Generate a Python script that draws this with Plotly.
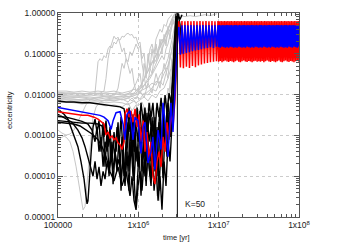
import plotly.graph_objects as go

# ---------------- data ----------------
x_tickvals = [1e5, 1e6, 1e7, 1e8]
x_ticktext = ["100000", "1x10<sup>6</sup>", "1x10<sup>7</sup>", "1x10<sup>8</sup>"]
y_tickvals = [1e-5, 1e-4, 1e-3, 1e-2, 1e-1, 1.0]
y_ticktext = ["0.00001", "0.00010", "0.00100", "0.01000", "0.10000", "1.00000"]
marker_time = 3.06e6
label_text = "K=50"

# late-time sampling of the two surviving planets (3 Myr - 100 Myr)
late_t_a = [3.20e6,3.34e6,3.49e6,3.64e6,3.80e6,3.97e6,4.14e6,4.33e6,4.52e6,4.72e6,
            4.92e6,5.14e6,5.37e6,5.60e6,5.85e6,6.10e6,6.37e6,6.65e6,6.95e6,7.25e6,
            7.57e6,7.90e6,8.25e6,8.62e6,8.99e6,9.39e6,9.80e6]
late_t_b = [1.000e7,1.024e7,1.049e7,1.075e7,1.101e7,1.128e7,1.155e7,1.183e7,1.212e7,1.241e7,
            1.271e7,1.302e7,1.334e7,1.366e7,1.399e7,1.433e7,1.468e7,1.504e7,1.540e7,1.578e7,
            1.616e7,1.655e7,1.695e7,1.736e7,1.778e7,1.821e7,1.866e7,1.911e7,1.957e7,2.005e7,
            2.054e7,2.103e7,2.154e7,2.207e7,2.260e7,2.315e7,2.371e7,2.429e7,2.488e7,2.548e7,
            2.610e7,2.673e7,2.738e7,2.805e7,2.873e7,2.943e7,3.014e7,3.087e7,3.162e7,3.239e7,
            3.318e7,3.398e7,3.481e7,3.565e7,3.652e7,3.740e7,3.831e7,3.924e7,4.019e7,4.117e7,
            4.217e7,4.319e7,4.424e7,4.532e7,4.642e7,4.754e7,4.870e7,4.988e7,5.109e7,5.233e7,
            5.360e7,5.490e7,5.623e7,5.760e7,5.900e7,6.043e7,6.190e7,6.340e7,6.494e7,6.652e7,
            6.813e7,6.979e7,7.149e7,7.322e7,7.500e7,7.682e7,7.869e7,8.060e7,8.256e7,8.456e7,
            8.661e7,8.872e7,9.087e7,9.308e7,9.534e7,9.766e7,1.000e8]

red_early_t = [1.00e5,1.19e5,1.41e5,1.68e5,1.99e5,2.36e5,2.81e5,3.15e5,3.53e5,3.74e5,3.96e5,4.20e5,4.44e5,4.71e5,4.98e5,5.28e5,5.59e5,5.92e5,6.27e5,6.64e5,6.83e5,7.23e5,7.66e5,8.11e5,8.59e5,9.10e5,9.64e5,1.02e6,1.08e6,1.15e6,1.21e6,1.28e6,1.36e6,1.44e6,1.52e6,1.61e6,1.71e6,1.81e6,1.92e6,2.03e6,2.15e6,2.28e6,2.41e6,2.55e6,2.70e6,2.87e6,2.95e6,3.03e6,3.12e6]
red_early_e = [0.0038,0.0036,0.0034,0.0033,0.0031,0.0031,0.0028,0.0025,0.0021,0.0019,0.00102,0.00121,0.00087,0.00097,0.00078,0.00087,0.00066,0.00059,0.00045,0.00070,0.0033,0.0045,0.0028,0.0040,0.0021,0.0045,0.0016,0.0033,0.00070,0.0023,0.00040,0.00121,0.00026,0.00070,0.00010,0.000064,0.00023,0.00040,0.00017,0.00092,0.00040,0.0021,0.00078,0.0036,0.0016,0.0083,0.033,0.174,0.525]
red_late_a = [0.63,0.046,0.64,0.044,0.63,0.048,0.64,0.045,0.63,0.050,
              0.64,0.047,0.63,0.052,0.64,0.055,0.63,0.058,0.64,0.060,
              0.63,0.062,0.64,0.064,0.63,0.066,0.64]
red_late_b = [0.064,0.63,0.067,0.64,0.062,0.63,0.066,0.64,0.069,0.63,
              0.065,0.64,0.063,0.63,0.067,0.64,0.065,0.63,0.062,0.64,
              0.066,0.63,0.069,0.64,0.064,0.63,0.062,0.64,0.066,0.63,
              0.069,0.64,0.065,0.63,0.063,0.64,0.067,0.63,0.065,0.64,
              0.062,0.63,0.066,0.64,0.068,0.63,0.064,0.64,0.066,0.63,
              0.064,0.64,0.067,0.63,0.062,0.64,0.066,0.63,0.069,0.64,
              0.065,0.63,0.063,0.64,0.067,0.63,0.065,0.64,0.062,0.63,
              0.066,0.64,0.069,0.63,0.064,0.64,0.062,0.63,0.066,0.64,
              0.069,0.63,0.065,0.64,0.063,0.63,0.067,0.64,0.065,0.63,
              0.062,0.64,0.066,0.63,0.068,0.64,0.064]

blue_early_t = [1.00e5,1.19e5,1.41e5,1.68e5,1.99e5,2.36e5,2.81e5,3.34e5,3.74e5,4.20e5,4.44e5,4.58e5,4.85e5,5.28e5,5.92e5,6.45e5,6.83e5,7.23e5,7.88e5,8.59e5,9.10e5,9.92e5,1.08e6,1.15e6,1.21e6,1.32e6,1.44e6,1.52e6,1.61e6,1.76e6,1.92e6,2.03e6,2.15e6,2.34e6,2.55e6,2.70e6,2.87e6,2.95e6,3.03e6,3.12e6]
blue_early_e = [0.0048,0.0045,0.0043,0.0040,0.0038,0.0036,0.0034,0.0031,0.0028,0.0023,0.0017,0.0014,0.0023,0.0036,0.0038,0.0019,0.00078,0.0033,0.0040,0.00078,0.0028,0.0023,0.00036,0.0016,0.0021,0.00021,0.00040,0.00092,0.000147,0.00135,0.00045,0.0063,0.0021,0.00030,0.0063,0.00121,0.0144,0.058,0.229,0.40]
blue_late_a = [0.45,0.095,0.50,0.10,0.51,0.105,0.50,0.11,0.51,0.115,
               0.50,0.12,0.51,0.125,0.50,0.13,0.51,0.135,0.50,0.14,
               0.51,0.145,0.50,0.14,0.51,0.15,0.50]
blue_late_b = [0.145,0.51,0.14,0.50,0.15,0.51,0.145,0.50,0.14,0.51,
               0.145,0.51,0.14,0.50,0.15,0.51,0.145,0.50,0.14,0.51,
               0.145,0.51,0.14,0.50,0.15,0.51,0.145,0.50,0.14,0.51,
               0.145,0.51,0.14,0.50,0.15,0.51,0.145,0.50,0.14,0.51,
               0.145,0.51,0.14,0.50,0.15,0.51,0.145,0.50,0.14,0.51,
               0.145,0.51,0.14,0.50,0.15,0.51,0.145,0.50,0.14,0.51,
               0.145,0.51,0.14,0.50,0.15,0.51,0.145,0.50,0.14,0.51,
               0.145,0.51,0.14,0.50,0.15,0.51,0.145,0.50,0.14,0.51,
               0.145,0.51,0.14,0.50,0.15,0.51,0.145,0.50,0.14,0.51,
               0.15,0.50,0.145,0.51,0.14,0.50,0.15]

# black planets
b1_t = [1.00e5,1.26e5,1.58e5,1.99e5,2.50e5,3.15e5,3.96e5,4.98e5,5.92e5,6.64e5,7.03e5,7.45e5,7.88e5,8.35e5,8.84e5,9.37e5,9.92e5,1.05e6,1.11e6,1.18e6,1.25e6,1.32e6,1.40e6,1.48e6,1.57e6,1.66e6,1.76e6,1.86e6,1.97e6,2.09e6,2.21e6,2.34e6,2.48e6,2.63e6,2.78e6,2.87e6,2.95e6,3.12e6,3.30e6,3.50e6]
b1_e = [0.0070,0.0066,0.0066,0.0063,0.0063,0.0059,0.0056,0.0053,0.0050,0.0045,0.0023,0.0036,0.00121,0.0028,0.00040,0.0021,0.00070,0.0040,0.00087,0.0033,0.00023,0.0016,0.0036,0.00053,0.0023,0.000131,0.00121,0.0048,0.00040,0.0028,0.00092,0.0063,0.0021,0.0144,0.058,0.30,0.815,0.96,0.69,0.91]

b2_t = [1.00e5,1.19e5,1.33e5,1.45e5,1.58e5,1.77e5,1.93e5,2.11e5,2.23e5,2.30e5,2.36e5,2.43e5,2.50e5,2.58e5,2.65e5,2.73e5,2.89e5,3.06e5,3.24e5,3.43e5,3.64e5,3.85e5,4.08e5,4.32e5,4.58e5,4.85e5,5.13e5,5.43e5,5.75e5,6.09e5,6.45e5,6.83e5,7.23e5,7.66e5,8.11e5,8.59e5,9.10e5,9.37e5,9.64e5,1.02e6,1.08e6,1.15e6,1.21e6,1.28e6,1.36e6,1.44e6,1.52e6,1.61e6,1.71e6,1.81e6,1.92e6,2.03e6,2.15e6,2.28e6,2.41e6,2.55e6,2.70e6,2.87e6,2.95e6,3.03e6,3.21e6]
b2_e = [0.0043,0.0033,0.0025,0.0016,0.00102,0.00053,0.00023,0.000085,0.000033,0.000021,0.000025,0.000049,0.000131,0.00036,0.00078,0.0016,0.0025,0.00121,0.0023,0.00040,0.0021,0.00017,0.00135,0.000100,0.00070,0.000064,0.00040,0.000131,0.00092,0.000044,0.00053,0.000085,0.00121,0.000131,0.0021,0.00023,0.000033,0.000019,0.000058,0.00040,0.000033,0.00070,0.000100,0.0021,0.00017,0.000058,0.00092,0.000131,0.0016,0.000044,0.00070,0.000089,0.00121,0.00030,0.0036,0.00092,0.0063,0.058,0.30,0.815,0.96]

b3_t = [1.00e5,1.26e5,1.49e5,1.77e5,1.99e5,2.17e5,2.36e5,2.58e5,2.73e5,2.89e5,3.06e5,3.24e5,3.43e5,3.64e5,3.85e5,4.08e5,4.32e5,4.58e5,4.85e5,5.13e5,5.43e5,5.75e5,6.09e5,6.45e5,6.83e5,7.23e5,7.66e5,8.11e5,8.59e5,9.10e5,9.64e5,1.02e6,1.08e6,1.15e6,1.21e6,1.28e6,1.36e6,1.44e6,1.52e6,1.61e6,1.71e6,1.81e6,1.92e6,2.03e6,2.15e6,2.28e6,2.41e6,2.55e6,2.70e6,2.87e6,2.95e6,3.03e6,3.12e6,3.30e6,3.50e6]
b3_e = [0.0033,0.0026,0.0021,0.00135,0.00087,0.00053,0.00029,0.000147,0.00010,0.00023,0.000085,0.00017,0.000058,0.000131,0.000085,0.00023,0.000118,0.00030,0.000147,0.00040,0.00017,0.00026,0.00010,0.00023,0.000058,0.00040,0.000044,0.00070,0.00010,0.00121,0.00023,0.0023,0.00053,0.0016,0.00030,0.0036,0.00070,0.0016,0.00017,0.0028,0.00053,0.0021,0.00023,0.0033,0.00070,0.0048,0.0016,0.0083,0.0036,0.033,0.174,0.69,0.91,0.525,0.10]

b4_t = [1.00e5,1.26e5,1.58e5,1.99e5,2.50e5,3.15e5,3.53e5,3.74e5,3.96e5,4.20e5,4.44e5,4.71e5,4.98e5,5.28e5,5.59e5,5.92e5,6.27e5,6.64e5,7.03e5,7.45e5,7.88e5,8.35e5,8.84e5,9.37e5,9.92e5,1.05e6,1.11e6,1.18e6,1.25e6,1.32e6,1.40e6,1.48e6,1.57e6,1.66e6,1.76e6,1.86e6,1.97e6,2.09e6,2.21e6,2.34e6,2.48e6,2.63e6,2.78e6,2.87e6,2.95e6,3.03e6]
b4_e = [0.0023,0.0022,0.0021,0.0020,0.0020,0.0019,0.0017,0.00092,0.0023,0.00053,0.0016,0.00023,0.00121,0.00040,0.0021,0.00017,0.00092,0.00010,0.00070,0.0021,0.00030,0.00092,0.000076,0.00053,0.00017,0.0016,0.000131,0.00092,0.000058,0.00070,0.00023,0.0028,0.00040,0.00135,0.00010,0.0021,0.00023,0.0016,0.00053,0.0028,0.00092,0.0048,0.019,0.10,0.40,0.91]

b5_t = [1.00e5,1.26e5,1.58e5,1.99e5,2.36e5,2.65e5,2.89e5,3.06e5,3.24e5,3.43e5,3.64e5,3.85e5,4.08e5,4.32e5,4.58e5,4.85e5,5.13e5,5.43e5,5.75e5,6.09e5,6.45e5,6.83e5,7.23e5,7.66e5,8.11e5,8.59e5,9.10e5,9.64e5,1.02e6,1.08e6,1.15e6,1.21e6,1.28e6,1.36e6,1.44e6,1.52e6,1.61e6,1.71e6,1.81e6,1.92e6,2.03e6,2.15e6,2.28e6,2.41e6,2.55e6,2.70e6,2.78e6,2.87e6,2.95e6,3.12e6]
b5_e = [0.0029,0.0028,0.0025,0.0022,0.0019,0.00135,0.00070,0.0016,0.00040,0.00092,0.00017,0.00070,0.00040,0.00121,0.00023,0.00070,0.00030,0.0016,0.00053,0.0028,0.00040,0.0036,0.00070,0.0048,0.00092,0.0033,0.00040,0.0048,0.00121,0.0063,0.0021,0.0048,0.00070,0.0063,0.0028,0.0063,0.00121,0.0063,0.0028,0.0083,0.0021,0.0098,0.0036,0.0109,0.0063,0.025,0.132,0.525,0.96,0.86]

b6_t = [1.00e5,1.26e5,1.58e5,1.88e5,2.23e5,2.65e5,3.15e5,3.53e5,3.96e5,4.44e5,4.98e5,5.59e5,6.27e5,7.03e5,7.88e5,8.35e5,8.84e5,9.37e5,9.92e5,1.05e6,1.11e6,1.18e6,1.25e6,1.32e6,1.40e6,1.48e6,1.57e6,1.66e6,1.76e6,1.86e6,1.97e6,2.09e6,2.21e6,2.34e6,2.48e6,2.63e6,2.78e6,2.87e6,2.95e6,3.03e6]
b6_e = [0.0021,0.0020,0.0019,0.0017,0.00135,0.00108,0.00078,0.00053,0.00030,0.000131,0.000076,0.00017,0.000058,0.000131,0.000033,0.00010,0.000025,0.000015,0.000058,0.000131,0.000044,0.00023,0.000076,0.00040,0.00010,0.00053,0.000044,0.00017,0.000025,0.00010,0.000015,0.00023,0.000058,0.00070,0.00023,0.0021,0.0083,0.058,0.30,0.73]

# gray planets
g1_t = [1.00e5,1.41e5,1.88e5,2.50e5,2.89e5,3.06e5,3.15e5,3.34e5,3.53e5,3.74e5,3.96e5,4.20e5,4.44e5,4.71e5,4.98e5,5.28e5,5.59e5,5.92e5,6.27e5,6.64e5,7.03e5,7.45e5,7.88e5,8.35e5,8.84e5,9.37e5,9.92e5,1.05e6,1.11e6,1.18e6,1.25e6,1.32e6,1.40e6,1.48e6,1.57e6,1.66e6,1.76e6,1.86e6,1.97e6,2.09e6,2.21e6,2.34e6,2.48e6,2.63e6]
g1_e = [0.0098,0.0092,0.0092,0.0098,0.0109,0.033,0.064,0.076,0.068,0.090,0.080,0.132,0.156,0.139,0.194,0.174,0.229,0.217,0.27,0.256,0.30,0.319,0.286,0.30,0.242,0.256,0.174,0.194,0.076,0.10,0.033,0.058,0.132,0.174,0.10,0.229,0.30,0.40,0.337,0.525,0.47,0.69,0.815,0.91]

g2_t = [1.00e5,1.41e5,1.88e5,2.50e5,3.34e5,3.74e5,3.96e5,4.20e5,4.44e5,4.71e5,4.98e5,5.28e5,5.59e5,5.92e5,6.27e5,6.64e5,7.03e5,7.45e5,7.88e5,8.35e5,8.84e5,9.37e5,9.92e5,1.05e6,1.18e6,1.32e6,1.48e6,1.66e6,1.86e6,2.09e6,2.34e6,2.63e6,2.78e6]
g2_e = [0.0109,0.0103,0.0109,0.0103,0.0109,0.0122,0.025,0.076,0.132,0.194,0.27,0.229,0.256,0.174,0.112,0.139,0.076,0.052,0.033,0.044,0.019,0.0122,0.0144,0.0109,0.017,0.025,0.033,0.058,0.10,0.174,0.30,0.525,0.69]

g3_t = [1.00e5,1.41e5,1.88e5,2.50e5,3.34e5,4.44e5,5.13e5,5.59e5,5.92e5,6.27e5,6.64e5,7.03e5,7.45e5,7.88e5,8.35e5,8.84e5,9.37e5,9.92e5,1.05e6,1.11e6,1.18e6,1.25e6,1.32e6,1.40e6,1.48e6,1.57e6,1.66e6,1.76e6,1.86e6,1.97e6,2.09e6,2.21e6,2.34e6,2.48e6,2.63e6,2.78e6]
g3_e = [0.0088,0.0083,0.0088,0.0083,0.0088,0.0092,0.0098,0.0144,0.033,0.058,0.044,0.076,0.064,0.112,0.090,0.132,0.174,0.132,0.156,0.058,0.025,0.0144,0.019,0.044,0.033,0.076,0.064,0.132,0.174,0.229,0.194,0.337,0.42,0.585,0.73,0.91]

g4_t = [1.00e5,1.26e5,1.58e5,1.99e5,2.50e5,3.15e5,3.96e5,4.98e5,6.27e5,7.88e5,8.84e5,9.92e5,1.11e6,1.25e6,1.40e6,1.57e6,1.76e6,1.97e6,2.09e6,2.21e6,2.34e6,2.48e6,2.63e6,2.78e6,2.95e6,3.30e6,3.82e6,4.41e6,5.09e6,5.86e6,6.78e6,7.82e6,9.02e6,9.55e6]
g4_e = [0.0122,0.0122,0.0115,0.0122,0.0115,0.0122,0.0115,0.0122,0.0109,0.0122,0.0136,0.0122,0.0152,0.019,0.025,0.037,0.058,0.090,0.072,0.132,0.174,0.30,0.47,0.73,0.96,0.86,0.815,0.86,0.815,0.86,0.91,0.86,0.91,0.96]

g5_t = [1.00e5,1.26e5,1.58e5,1.99e5,2.50e5,3.15e5,3.96e5,4.98e5,6.27e5,7.88e5,9.37e5,1.05e6,1.18e6,1.32e6,1.48e6,1.66e6,1.86e6,2.09e6,2.34e6,2.48e6,2.63e6,2.78e6,2.95e6]
g5_e = [0.0115,0.0109,0.0109,0.0103,0.0109,0.0103,0.0109,0.0103,0.0098,0.0109,0.0103,0.0122,0.0136,0.0152,0.019,0.017,0.030,0.0415,0.076,0.132,0.229,0.40,0.69]

g6_t = [1.00e5,1.26e5,1.58e5,1.99e5,2.50e5,3.15e5,3.96e5,4.98e5,6.27e5,7.88e5,9.37e5,1.05e6,1.18e6,1.32e6,1.48e6,1.66e6,1.86e6,2.09e6,2.34e6,2.55e6,2.70e6,2.87e6,3.03e6]
g6_e = [0.0103,0.0098,0.0098,0.0092,0.0092,0.0098,0.0092,0.0088,0.0092,0.0088,0.0098,0.0109,0.0098,0.0122,0.0144,0.0212,0.019,0.033,0.052,0.10,0.194,0.337,0.585]

g7_t = [1.00e5,1.26e5,1.58e5,1.99e5,2.50e5,3.15e5,3.96e5,4.98e5,6.27e5,7.45e5,8.35e5,9.37e5,1.05e6,1.18e6,1.32e6,1.48e6,1.66e6,1.86e6,2.03e6,2.21e6,2.41e6,2.63e6,2.78e6,2.95e6,3.12e6]
g7_e = [0.0092,0.0088,0.0088,0.0083,0.0078,0.0083,0.0078,0.0083,0.0074,0.0083,0.0070,0.0088,0.0078,0.0109,0.0098,0.0136,0.0122,0.0212,0.017,0.033,0.058,0.132,0.30,0.525,0.815]

g8_t = [1.00e5,1.26e5,1.58e5,1.99e5,2.50e5,3.15e5,3.96e5,4.98e5,6.27e5,7.45e5,8.35e5,9.37e5,1.05e6,1.18e6,1.32e6,1.48e6,1.66e6,1.86e6,2.09e6,2.34e6,2.55e6,2.78e6,2.95e6,3.12e6]
g8_e = [0.0083,0.0078,0.0078,0.0074,0.0074,0.0070,0.0074,0.0070,0.0078,0.0066,0.0083,0.0063,0.0074,0.0088,0.0070,0.0098,0.0083,0.0122,0.0144,0.025,0.044,0.132,0.40,0.91]

g9_t = [1.00e5,1.26e5,1.58e5,1.99e5,2.50e5,3.15e5,3.96e5,4.98e5,6.27e5,7.45e5,8.84e5,9.92e5,1.11e6,1.25e6,1.40e6,1.57e6,1.66e6,1.76e6,1.81e6,1.86e6,1.97e6,2.09e6,2.21e6,2.34e6,2.48e6,2.63e6,2.78e6,2.95e6,3.03e6]
g9_e = [0.0074,0.0074,0.0070,0.0070,0.0066,0.0066,0.0063,0.0066,0.0063,0.0056,0.0070,0.0053,0.0066,0.0036,0.0063,0.0021,0.0048,0.00040,0.000025,0.00023,0.0036,0.0083,0.0048,0.0144,0.0109,0.033,0.10,0.30,0.69]

g10_t = [1.00e5,1.26e5,1.58e5,1.99e5,2.50e5,3.15e5,3.96e5,4.98e5,6.27e5,7.45e5,8.35e5,9.37e5,1.05e6,1.18e6,1.32e6,1.48e6,1.61e6,1.71e6,1.76e6,1.86e6,1.97e6,2.09e6,2.21e6,2.34e6,2.48e6,2.63e6,2.78e6,2.95e6]
g10_e = [0.0063,0.0066,0.0063,0.0059,0.0063,0.0059,0.0053,0.0056,0.0050,0.0063,0.0040,0.0056,0.0028,0.0048,0.0016,0.0036,0.00070,0.000033,0.00040,0.0021,0.0048,0.0028,0.0083,0.0063,0.019,0.058,0.174,0.525]

g11_t = [1.00e5,1.09e5,1.19e5,1.29e5,1.41e5,1.54e5,1.68e5,1.83e5,1.93e5,2.05e5,2.17e5,2.30e5,2.43e5,2.58e5,2.73e5,2.98e5,3.34e5,3.96e5,4.98e5,6.27e5,7.88e5,9.37e5,1.05e6,1.18e6,1.32e6,1.48e6,1.66e6,1.86e6,2.09e6,2.34e6,2.63e6,2.87e6]
g11_e = [0.00070,0.00087,0.00097,0.00087,0.00070,0.00040,0.00017,0.000058,0.000025,0.000015,0.000018,0.000058,0.00023,0.00092,0.0028,0.0050,0.0066,0.0074,0.0078,0.0083,0.0092,0.0109,0.0144,0.025,0.037,0.058,0.10,0.156,0.229,0.40,0.69,0.96]

g12_t = [1.00e5,1.12e5,1.26e5,1.41e5,1.58e5,1.77e5,1.99e5,2.23e5,2.50e5,2.98e5,3.74e5,4.71e5,5.92e5,7.45e5,8.84e5,9.92e5,1.11e6,1.25e6,1.40e6,1.57e6,1.76e6,1.97e6,2.21e6,2.48e6,2.70e6,2.87e6]
g12_e = [0.00135,0.00114,0.00102,0.00108,0.00135,0.0021,0.0036,0.0056,0.0074,0.0083,0.0088,0.0083,0.0088,0.0098,0.0109,0.0136,0.019,0.030,0.052,0.076,0.112,0.194,0.30,0.525,0.815,0.99]

g13_t = [1.00e5,1.41e5,1.99e5,2.81e5,3.96e5,5.59e5,7.03e5,8.35e5,9.37e5,1.05e6,1.11e6,1.18e6,1.25e6,1.32e6,1.40e6,1.48e6,1.57e6,1.66e6,1.76e6,1.86e6,1.97e6,2.09e6,2.21e6,2.34e6,2.48e6,2.63e6,2.78e6,2.95e6]
g13_e = [0.0109,0.0109,0.0103,0.0109,0.0103,0.0109,0.0098,0.0122,0.019,0.033,0.0144,0.058,0.025,0.10,0.044,0.132,0.058,0.174,0.076,0.229,0.10,0.30,0.156,0.47,0.229,0.69,0.525,0.91]

g14_t = [1.00e5,1.41e5,1.99e5,2.81e5,3.96e5,5.59e5,7.03e5,8.35e5,9.37e5,1.05e6,1.18e6,1.32e6,1.48e6,1.66e6,1.86e6,2.09e6,2.34e6,2.48e6,2.63e6,2.78e6,2.95e6,3.12e6]
g14_e = [0.0078,0.0078,0.0074,0.0078,0.0070,0.0074,0.0078,0.0092,0.0078,0.0122,0.0083,0.019,0.0109,0.033,0.0144,0.058,0.025,0.10,0.058,0.229,0.525,0.99]

gray_series = [(g1_t, g1_e), (g2_t, g2_e), (g3_t, g3_e), (g4_t, g4_e), (g5_t, g5_e),
               (g6_t, g6_e), (g7_t, g7_e), (g8_t, g8_e), (g9_t, g9_e), (g10_t, g10_e),
               (g11_t, g11_e), (g12_t, g12_e), (g13_t, g13_e), (g14_t, g14_e)]
black_series = [(b1_t, b1_e), (b2_t, b2_e), (b3_t, b3_e), (b4_t, b4_e), (b5_t, b5_e), (b6_t, b6_e)]

red_t = red_early_t + late_t_a + late_t_b
red_e = red_early_e + red_late_a + red_late_b
blue_t = blue_early_t + late_t_a + late_t_b
blue_e = blue_early_e + blue_late_a + blue_late_b

# ---------------- figure ----------------
FONT = "Liberation Sans"
fig = go.Figure()

for t, e in gray_series:
    fig.add_trace(go.Scatter(x=t, y=e, mode="lines", line=dict(color="#c6c6c6", width=1),
                             hoverinfo="skip", showlegend=False))
for t, e in black_series:
    fig.add_trace(go.Scatter(x=t, y=e, mode="lines", line=dict(color="#000000", width=1.4),
                             hoverinfo="skip", showlegend=False))
fig.add_trace(go.Scatter(x=red_t, y=red_e, mode="lines", line=dict(color="#ff0000", width=1.5),
                         hoverinfo="skip", showlegend=False))
fig.add_trace(go.Scatter(x=blue_t, y=blue_e, mode="lines", line=dict(color="#0000ff", width=1.5),
                         hoverinfo="skip", showlegend=False))
fig.add_trace(go.Scatter(x=[marker_time, marker_time], y=[y_tickvals[0], y_tickvals[-1]], mode="lines",
                         line=dict(color="#000000", width=1), hoverinfo="skip", showlegend=False))

axis_common = dict(
    type="log", showline=True, linecolor="#555555", linewidth=1, mirror="ticks",
    ticks="inside", ticklen=5, tickcolor="#555555", tickwidth=1,
    showgrid=True, gridcolor="#cccccc", griddash="dot", gridwidth=1, zeroline=False,
    tickfont=dict(family=FONT, size=8.5, color="#222222"),
    minor=dict(ticks="inside", ticklen=3, dtick="D1", tickcolor="#555555", showgrid=False),
)
fig.update_xaxes(range=[5, 8], tickmode="array", tickvals=x_tickvals, ticktext=x_ticktext, **axis_common)
fig.update_yaxes(range=[-5, 0], tickmode="array", tickvals=y_tickvals, ticktext=y_ticktext, **axis_common)

fig.add_annotation(text="eccentricity", xref="paper", yref="paper", x=-0.201, y=0.522,
                   textangle=-90, showarrow=False, font=dict(family=FONT, size=7.5, color="#222222"),
                   xanchor="center", yanchor="middle")
fig.add_annotation(text="time [yr]", xref="paper", yref="paper", x=0.49, y=-0.10,
                   showarrow=False, font=dict(family=FONT, size=7.5, color="#222222"),
                   xanchor="center", yanchor="middle")
fig.add_annotation(text=label_text, xref="paper", yref="paper", x=0.519, y=0.062,
                   showarrow=False, font=dict(family=FONT, size=8.5, color="#222222"),
                   xanchor="left", yanchor="middle")

fig.update_layout(
    width=350, height=245, autosize=False,
    margin=dict(l=58, r=51, t=8, b=28),
    paper_bgcolor="white", plot_bgcolor="white",
    showlegend=False,
)

fig.write_html("out.html", config={"displayModeBar": False, "staticPlot": True},
               post_script="document.body.style.margin='0';document.body.style.padding='0';document.body.style.overflow='hidden';")
